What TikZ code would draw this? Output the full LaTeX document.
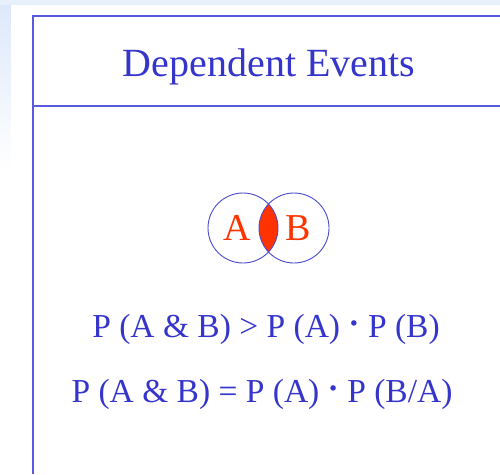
\documentclass[tikz,border=0pt]{standalone}
\usepackage{fontspec}
\setmainfont{Liberation Serif}
\definecolor{txtblue}{HTML}{3535CC}
\definecolor{lineblue}{HTML}{5A5AE0}
\definecolor{circblue}{HTML}{4A4ACC}
\definecolor{lensred}{HTML}{FF3300}
\definecolor{bgblue}{HTML}{DCE8FA}
\tikzset{
  formula/.style={anchor=base, text=txtblue, font=\fontsize{33.5}{36}\selectfont, inner sep=0pt},
  titletext/.style={anchor=base, text=txtblue, font=\fontsize{40}{44}\selectfont, inner sep=0pt},
  setlabel/.style={anchor=base, text=lensred, font=\fontsize{38}{40}\selectfont, inner sep=0pt},
  setcircle/.style={circle, draw=circblue, line width=0.9pt, minimum size=70pt, inner sep=0pt},
  frame/.style={draw=lineblue, line width=2pt}
}
\newcommand{\mydot}{\raisebox{0.08em}{\textbf{·}}}
\begin{document}
\begin{tikzpicture}[x=1pt,y=-1pt]
\useasboundingbox (0,0) rectangle (500,474);
% background
\shade[top color=bgblue, bottom color=white] (0,0) rectangle (500,170);
\fill[bgblue!70] (0,0) rectangle (500,5);
\fill[white] (11,5) rectangle (500,474);
% frame
\coordinate (tl) at (33,15.5);
\coordinate (tr) at (500,15.5);
\coordinate (bl) at (33,474);
\coordinate (dl) at (33,106);
\coordinate (dr) at (500,106);
\draw[frame] (tr) -- (tl) -- (bl);
\draw[frame] (dl) -- (dr);
% title
\node[titletext] (title) at (269,76) {Dependent Events};
% venn
\begin{scope}
  \clip (243,228) circle (35pt);
  \fill[lensred] (294,228) circle (35pt);
\end{scope}
\node[setcircle] (ca) at (243,228) {};
\node[setcircle] (cb) at (294,228) {};
\node[setlabel] (la) at (237.5,240) {A};
\node[setlabel] (lb) at (298.5,240) {B};
% formulas
\node[formula] (f1) at (266,337) {P (A \& B) > P (A) \mydot{} P (B)};
\node[formula] (f2) at (262,402) {P (A \& B) = P (A) \mydot{} P (B/A)};
\end{tikzpicture}
\end{document}
